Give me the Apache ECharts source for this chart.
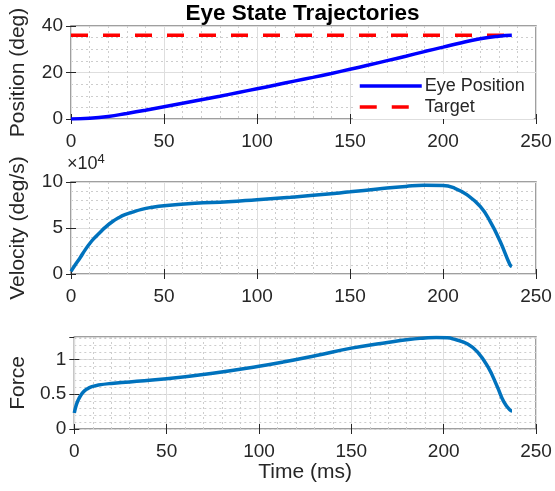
<!DOCTYPE html>
<html>
<head>
<meta charset="utf-8">
<script src="https://cdn.jsdelivr.net/npm/echarts@6/dist/echarts.min.js"></script>
<style>
  html, body { margin: 0; padding: 0; background: #fff; }
  #chart { width: 555px; height: 491px; }
</style>
</head>
<body>
<div id="chart"></div>
<script>
// ---- data ----
const posTime = [0, 10, 20, 30, 40, 50, 60, 70, 80, 90, 100, 110, 120, 130, 140, 150, 160, 170, 180, 190, 200, 210, 220, 230, 237];
const posDeg  = [0, 0.3, 1.1, 2.4, 3.8, 5.3, 6.8, 8.3, 9.8, 11.4, 13.0, 14.6, 16.3, 17.9, 19.6, 21.4, 23.2, 25.1, 27.0, 29.0, 30.9, 32.8, 34.5, 35.6, 36.0];

const targetTime = [0, 237];
const targetDeg  = [36, 36];

const velTime = [0, 2.3, 5, 7.7, 10.4, 13, 15.7, 18.4, 22, 25.5, 29, 32.7, 38, 43.4, 50, 66.6, 84.5, 100, 118, 135, 150, 165, 180, 190, 200, 206, 213, 220, 225.4, 230.7, 236, 237];
const velDegS = [2900, 10000, 18000, 26500, 34000, 40000, 45500, 50700, 56500, 61000, 64500, 67000, 70300, 72500, 74300, 76800, 78500, 80800, 83500, 86300, 89300, 92400, 95200, 96400, 96200, 93500, 86000, 73400, 57000, 35500, 10000, 8000];

const forceTime = [0, 0.9, 2, 3.2, 5, 6.8, 9.5, 13, 20, 30, 50, 75, 100, 113, 131, 150, 167, 181, 190, 196, 202, 206, 213, 218.5, 224, 229, 232.6, 236, 237];
const forceVal  = [0.23, 0.33, 0.41, 0.47, 0.535, 0.573, 0.607, 0.63, 0.654, 0.675, 0.72, 0.80, 0.90, 0.96, 1.055, 1.16, 1.23, 1.285, 1.305, 1.312, 1.308, 1.285, 1.22, 1.10, 0.89, 0.61, 0.39, 0.27, 0.26];

const seriesNames = ['Eye Position', 'Target'];
const titleText = 'Eye State Trajectories';
const yNames = ['Position (deg)', 'Velocity (deg/s)', 'Force'];
const xName = 'Time (ms)';

// ---- styling ----
const FONT = '"Liberation Sans", Arial, Helvetica, sans-serif';
const TXT = '#262626';
const zip = (a, b) => a.map((x, i) => [x, b[i]]);

const grids = [
  { left: 69, right: 19, top: 26, height: 93 },
  { left: 69, right: 19, top: 182, height: 92 },
  { left: 69, right: 19, top: 337, height: 92 }
].map(g => Object.assign(g, { show: true, borderColor: '#808080', borderWidth: 1.5, backgroundColor: '#fff', containLabel: false }));

const tick = { show: true, inside: true, length: 5, lineStyle: { color: '#262626', width: 1 } };
const majorSplit = { show: true, lineStyle: { color: '#dedede', width: 1 } };
const minorSplit = { show: true, lineStyle: { color: '#cdcdcd', width: 1, type: [2, 3] } };
const labelStyle = { color: TXT, fontSize: 19, fontFamily: FONT };

const xAxes = [];
const yAxes = [];
for (let g = 0; g < 3; g++) {
  xAxes.push({
    type: 'value', gridIndex: g, position: 'bottom', min: 0, max: 250, interval: 50,
    axisLine: { show: false }, axisTick: tick,
    axisLabel: Object.assign({ margin: 13 }, labelStyle),
    splitLine: majorSplit,
    minorTick: { show: false, splitNumber: 5 },
    minorSplitLine: minorSplit,
    name: g === 2 ? xName : '', nameLocation: 'middle', nameGap: 27,
    nameTextStyle: { color: TXT, fontSize: 21, fontFamily: FONT }
  });
  xAxes.push({
    type: 'value', gridIndex: g, position: 'top', min: 0, max: 250, interval: 50,
    axisLine: { show: false }, axisTick: tick, axisLabel: { show: false }, splitLine: { show: false }
  });
}

const yCfg = [
  { min: 0, max: 40, interval: 20, minor: 4, fmt: v => String(v) },
  { min: 0, max: 100000, interval: 50000, minor: 5, fmt: v => String(v / 10000) },
  { min: 0, max: 1.32, interval: 0.5, minor: 0, fmt: v => String(v) }
];
yCfg.forEach((c, g) => {
  yAxes.push({
    type: 'value', gridIndex: g, position: 'left', min: c.min, max: c.max, interval: c.interval,
    axisLine: { show: false }, axisTick: tick,
    axisLabel: Object.assign({ margin: 8, formatter: c.fmt, showMaxLabel: g !== 2 }, labelStyle),
    splitLine: majorSplit,
    minorTick: { show: false, splitNumber: c.minor || 5 },
    minorSplitLine: c.minor ? minorSplit : { show: false },
    name: yNames[g], nameLocation: 'middle', nameGap: 42, nameRotate: 90,
    nameTextStyle: { color: TXT, fontSize: 21, fontFamily: FONT }
  });
  yAxes.push({
    type: 'value', gridIndex: g, position: 'right', min: c.min, max: c.max, interval: c.interval,
    axisLine: { show: false }, axisTick: tick, axisLabel: { show: false }, splitLine: { show: false }
  });
});
// minor grid for the force panel (0.1 steps)
yAxes.push({
  type: 'value', gridIndex: 2, position: 'left', min: 0, max: 1.32, interval: 0.1,
  axisLine: { show: false }, axisTick: { show: false }, axisLabel: { show: false },
  splitLine: minorSplit, z: 0
});

const option = {
  animation: false,
  backgroundColor: '#fff',
  textStyle: { fontFamily: FONT },
  grid: grids,
  xAxis: xAxes,
  yAxis: yAxes,
  legend: {
    data: seriesNames,
    orient: 'vertical',
    left: 353, top: 74,
    backgroundColor: '#fff',
    padding: [3, 9, 3, 5],
    itemGap: 3,
    itemWidth: 62, itemHeight: 18,
    itemStyle: { opacity: 0 },
    lineStyle: { width: 3.5 },
    textStyle: { color: TXT, fontSize: 18, fontFamily: FONT, padding: [0, 0, 0, -2] }
  },
  graphic: [
    { type: 'text', x: 302.5, y: 2,
      style: { text: titleText, font: 'bold 22.5px ' + FONT, fill: '#000', align: 'center', verticalAlign: 'top' } },
    { type: 'text', x: 67, y: 153,
      style: { text: '×10{s|4}', font: '18px ' + FONT, fill: TXT, verticalAlign: 'top',
        rich: { s: { fontSize: 13, fontFamily: FONT, verticalAlign: 'top', padding: [0, 0, 9, 0] } } } }
  ],
  series: [
    { name: seriesNames[0], type: 'line', xAxisIndex: 0, yAxisIndex: 0, data: zip(posTime, posDeg),
      smooth: 0.5, symbol: 'none', lineStyle: { color: '#0000ff', width: 3.5 }, itemStyle: { color: '#0000ff' }, z: 3 },
    { name: seriesNames[1], type: 'line', xAxisIndex: 0, yAxisIndex: 0, data: zip(targetTime, targetDeg),
      symbol: 'none', lineStyle: { color: '#ff0000', width: 3.5, type: [17, 15] }, itemStyle: { color: '#ff0000' }, z: 2 },
    { name: 'Velocity', type: 'line', xAxisIndex: 2, yAxisIndex: 2, data: zip(velTime, velDegS),
      smooth: 0.5, symbol: 'none', lineStyle: { color: '#0072bd', width: 3.5 }, itemStyle: { color: '#0072bd' } },
    { name: 'Force', type: 'line', xAxisIndex: 4, yAxisIndex: 4, data: zip(forceTime, forceVal),
      smooth: 0.5, symbol: 'none', lineStyle: { color: '#0072bd', width: 3.5 }, itemStyle: { color: '#0072bd' } }
  ]
};

const chart = echarts.init(document.getElementById('chart'), null, { renderer: 'canvas' });
chart.setOption(option);
</script>
</body>
</html>
